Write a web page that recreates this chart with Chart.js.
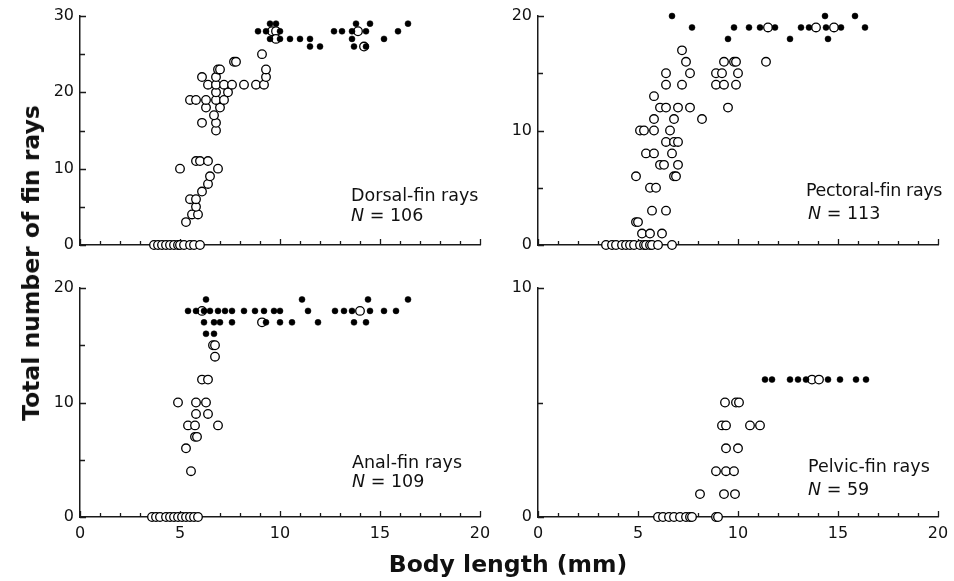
<!DOCTYPE html>
<html>
<head>
<meta charset="utf-8">
<script src="https://cdn.jsdelivr.net/npm/chart.js@4.4.0/dist/chart.umd.min.js"></script>
<style>
  body { margin: 0; background: #fff; }
  #wrap { position: relative; width: 954px; height: 581px; font-family: "DejaVu Sans", Verdana, sans-serif; color: #111; }
  #wrap canvas { position: absolute; left: 0; top: 0; }
  .note { position: absolute; font-size: 17.5px; line-height: 20px; white-space: nowrap; }
  .note i { font-style: italic; }
  .ytitle { position: absolute; left: 31px; top: 263px; transform: translate(-50%, -50%) rotate(-90deg); font-weight: bold; font-size: 23.5px; white-space: nowrap; }
  .xtitle { position: absolute; left: 508px; top: 564px; transform: translate(-50%, -50%); font-weight: bold; font-size: 23.5px; white-space: nowrap; }
</style>
</head>
<body>
<div id="wrap">
  <canvas id="dorsal" width="954" height="581"></canvas>
  <canvas id="pectoral" width="954" height="581"></canvas>
  <canvas id="anal" width="954" height="581"></canvas>
  <canvas id="pelvic" width="954" height="581"></canvas>

  <div class="note" style="left:351px; top:185px;">Dorsal-fin rays</div>
  <div class="note" style="left:351px; top:205px;"><i>N</i> = 106</div>
  <div class="note" style="left:806px; top:180px; letter-spacing:-0.35px;">Pectoral-fin rays</div>
  <div class="note" style="left:808px; top:203px;"><i>N</i> = 113</div>
  <div class="note" style="left:352px; top:452px;">Anal-fin rays</div>
  <div class="note" style="left:352px; top:471px;"><i>N</i> = 109</div>
  <div class="note" style="left:808px; top:456px;">Pelvic-fin rays</div>
  <div class="note" style="left:808px; top:479px;"><i>N</i> = 59</div>

  <div class="ytitle">Total number of fin rays</div>
  <div class="xtitle">Body length (mm)</div>
</div>

<script>
// body length (mm) vs number of rays; open = developing, filled = complete
const lengthTicks = [0, 5, 10, 15, 20];
const dorsalTicks = [0, 10, 20, 30];
const pectoralTicks = [0, 10, 20];
const analTicks = [0, 10, 20];
const pelvicTicks = [0, 10];

const dorsalOpen = [
  [3.7,0],[3.9,0],[4.1,0],[4.3,0],[4.5,0],[4.7,0],[4.9,0],[5.0,0],[5.2,0],[5.5,0],[5.7,0],[6.0,0],
  [5.3,3],[5.6,4],[5.9,4],[5.8,5],[5.5,6],[5.8,6],[6.1,7],[6.4,8],[6.5,9],[5.0,10],[6.9,10],
  [5.8,11],[6.0,11],[6.4,11],[6.8,15],[6.1,16],[6.8,16],[6.7,17],[6.3,18],[7.0,18],
  [5.5,19],[5.8,19],[6.3,19],[6.8,19],[7.2,19],[6.8,20],[7.4,20],
  [6.4,21],[6.8,21],[7.2,21],[7.6,21],[8.2,21],[8.8,21],[9.2,21],
  [6.1,22],[6.8,22],[9.3,22],[6.9,23],[7.0,23],[9.3,23],[7.7,24],[7.8,24],[9.1,25],
  [9.6,28],[9.8,28],[13.9,28],[9.8,27],[14.2,26]
];
const dorsalFull = [
  [9.5,29],[9.8,29],[13.8,29],[14.5,29],[16.4,29],
  [8.9,28],[9.3,28],[10.0,28],[12.7,28],[13.1,28],[13.6,28],[14.3,28],[15.9,28],
  [9.5,27],[10.0,27],[10.5,27],[11.0,27],[11.5,27],[13.6,27],[15.2,27],
  [11.5,26],[12.0,26],[13.7,26],[14.3,26]
];

const pectoralOpen = [
  [3.4,0],[3.7,0],[3.9,0],[4.2,0],[4.4,0],[4.6,0],[4.8,0],[5.1,0],[5.3,0],[5.4,0],[5.6,0],[5.7,0],[6.0,0],[6.7,0],
  [5.2,1],[5.6,1],[6.2,1],[4.9,2],[5.0,2],[5.7,3],[6.4,3],[5.6,5],[5.9,5],
  [4.9,6],[6.8,6],[6.9,6],[6.1,7],[6.3,7],[7.0,7],[5.4,8],[5.8,8],[6.7,8],
  [6.4,9],[6.8,9],[7.0,9],[5.1,10],[5.3,10],[5.8,10],[6.6,10],[5.8,11],[6.8,11],[8.2,11],
  [6.1,12],[6.4,12],[7.0,12],[7.6,12],[9.5,12],[5.8,13],
  [6.4,14],[7.2,14],[8.9,14],[9.3,14],[9.9,14],[6.4,15],[7.6,15],[8.9,15],[9.2,15],[10.0,15],
  [7.4,16],[9.3,16],[9.8,16],[9.9,16],[11.4,16],[7.2,17],
  [11.5,19],[13.9,19],[14.8,19]
];
const pectoralFull = [
  [6.7,20],[14.35,20],[15.85,20],
  [7.7,19],[9.8,19],[10.55,19],[11.1,19],[11.85,19],[13.15,19],[13.55,19],[14.4,19],[15.15,19],[16.35,19],
  [9.5,18],[12.6,18],[14.5,18]
];

const analOpen = [
  [3.6,0],[3.8,0],[4.0,0],[4.3,0],[4.5,0],[4.7,0],[4.9,0],[5.1,0],[5.3,0],[5.5,0],[5.7,0],[5.9,0],
  [5.55,4],[5.3,6],[5.75,7],[5.85,7],[5.4,8],[5.75,8],[6.9,8],[5.8,9],[6.4,9],
  [4.9,10],[5.8,10],[6.3,10],[6.1,12],[6.4,12],[6.75,14],[6.65,15],[6.75,15],
  [6.1,18],[14.0,18],[9.1,17]
];
const analFull = [
  [6.3,19],[11.1,19],[14.4,19],[16.4,19],
  [5.4,18],[5.8,18],[6.2,18],[6.5,18],[6.9,18],[7.25,18],[7.6,18],[8.2,18],[8.75,18],[9.2,18],[9.7,18],
  [10.0,18],[11.4,18],[12.75,18],[13.2,18],[13.6,18],[14.5,18],[15.2,18],[15.8,18],
  [6.2,17],[6.7,17],[7.0,17],[7.6,17],[9.3,17],[10.0,17],[10.6,17],[11.9,17],[13.7,17],[14.3,17],
  [6.3,16],[6.7,16]
];

const pelvicOpen = [
  [6.0,0],[6.25,0],[6.55,0],[6.8,0],[7.1,0],[7.4,0],[7.6,0],[7.7,0],[8.9,0],[9.0,0],
  [8.1,1],[9.3,1],[9.85,1],[8.9,2],[9.4,2],[9.8,2],[9.4,3],[10.0,3],
  [9.2,4],[9.4,4],[10.6,4],[11.1,4],[9.35,5],[9.9,5],[10.05,5],
  [13.7,6],[14.05,6]
];
const pelvicFull = [
  [11.35,6],[11.7,6],[12.6,6],[13.0,6],[13.4,6],[14.5,6],[15.1,6],[15.9,6],[16.4,6]
];

const FONT = { family: '"DejaVu Sans", Verdana, sans-serif', size: 16 };
const AXIS = '#1a1a1a';

// short inward tick marks, major and minor, placed through the chart's scales
const inTicks = {
  id: 'inTicks',
  beforeDatasetsDraw(chart, args, o) {
    const { ctx, scales: { x, y } } = chart;
    ctx.save();
    ctx.strokeStyle = AXIS;
    ctx.lineWidth = 1.3;
    ctx.beginPath();
    for (let v = x.min; v <= x.max + 1e-9; v += o.xMinor) {
      const px = Math.round(x.getPixelForValue(v)) + 0.5;
      const len = Math.abs(v % o.xMajor) < 1e-9 ? 6 : 4;
      ctx.moveTo(px, y.bottom);
      ctx.lineTo(px, y.bottom - len);
    }
    for (let v = y.min; v <= y.max + 1e-9; v += o.yMinor) {
      const py = Math.round(y.getPixelForValue(v)) + 0.5;
      const len = Math.abs(v % o.yMajor) < 1e-9 ? 6 : 5;
      ctx.moveTo(x.left, py);
      ctx.lineTo(x.left + len, py);
    }
    ctx.stroke();
    ctx.restore();
  }
};

const toXY = pts => pts.map(p => ({ x: p[0], y: p[1] }));

function panel(id, box, open, full, yTicks, yMinor, showX) {
  const yW = 40, xH = 30;
  new Chart(document.getElementById(id), {
    type: 'scatter',
    data: {
      datasets: [
        { data: toXY(full), pointRadius: 3, pointBackgroundColor: '#000', pointBorderColor: '#000', pointBorderWidth: 0.5, clip: false },
        { data: toXY(open), pointRadius: 4.3, pointBackgroundColor: '#fff', pointBorderColor: '#000', pointBorderWidth: 1.3, clip: false }
      ]
    },
    options: {
      responsive: false,
      animation: false,
      devicePixelRatio: 1,
      events: [],
      layout: { padding: { left: box.l - yW, right: 954 - box.r, top: box.t, bottom: 581 - box.b - xH } },
      plugins: {
        legend: { display: false },
        tooltip: { enabled: false },
        inTicks: { xMinor: 1, xMajor: 5, yMinor: yMinor, yMajor: 10 }
      },
      scales: {
        x: {
          type: 'linear', min: lengthTicks[0], max: lengthTicks[lengthTicks.length - 1],
          afterBuildTicks: s => { s.ticks = lengthTicks.map(v => ({ value: v })); },
          afterFit: s => { s.height = xH; s.paddingLeft = 0; s.paddingRight = 0; },
          grid: { display: false, drawTicks: false },
          border: { display: true, color: AXIS, width: 1.5 },
          ticks: { display: showX, padding: 7, font: FONT, color: '#111', maxRotation: 0, autoSkip: false }
        },
        y: {
          type: 'linear', min: yTicks[0], max: yTicks[yTicks.length - 1],
          afterBuildTicks: s => { s.ticks = yTicks.map(v => ({ value: v })); },
          afterFit: s => { s.width = yW; s.paddingTop = 0; s.paddingBottom = 0; },
          grid: { display: false, drawTicks: false },
          border: { display: true, color: AXIS, width: 1.5 },
          ticks: { padding: 6, font: FONT, color: '#111', autoSkip: false }
        }
      }
    },
    plugins: [inTicks]
  });
}

panel('dorsal',   { l: 80,  r: 480, t: 16,  b: 245 }, dorsalOpen,   dorsalFull,   dorsalTicks,   5, false);
panel('pectoral', { l: 538, r: 938, t: 16,  b: 245 }, pectoralOpen, pectoralFull, pectoralTicks, 5, false);
panel('anal',     { l: 80,  r: 480, t: 288, b: 517 }, analOpen,     analFull,     analTicks,     5, true);
panel('pelvic',   { l: 538, r: 938, t: 288, b: 517 }, pelvicOpen,   pelvicFull,   pelvicTicks,   5, true);
</script>
</body>
</html>
